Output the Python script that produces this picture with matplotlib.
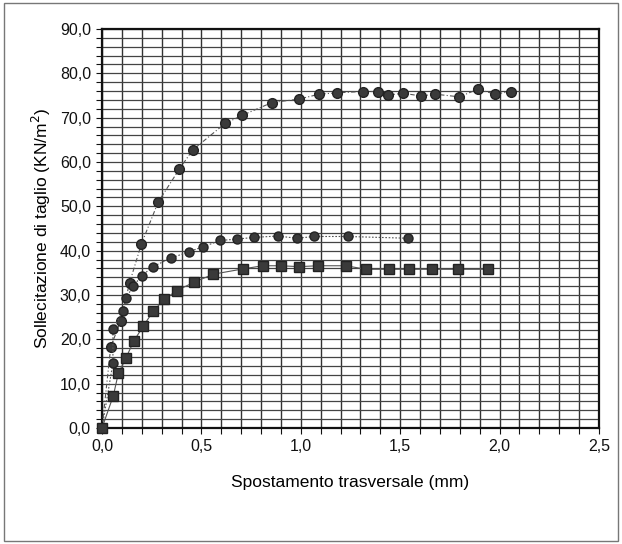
"""Shear stress vs transverse displacement, three test series (scanned chart redraw)."""

import matplotlib
matplotlib.use("Agg")
import matplotlib.pyplot as plt
from matplotlib.patches import Rectangle
from matplotlib.ticker import FuncFormatter, MultipleLocator

# series A: upper curve (circles)
a_x = [0.0, 0.044, 0.094, 0.139, 0.198, 0.283, 0.389, 0.456, 0.619, 0.704, 0.854,
       0.992, 1.093, 1.181, 1.314, 1.390, 1.437, 1.516, 1.603, 1.675, 1.797, 1.890,
       1.977, 2.057]
a_y = [0.0, 18.3, 24.2, 32.8, 41.5, 51.0, 58.4, 62.7, 68.7, 70.5, 73.4,
       74.2, 75.3, 75.6, 75.9, 75.9, 75.1, 75.5, 74.9, 75.3, 74.7, 76.4,
       75.3, 75.9]

# series B: middle curve (circles)
b_x = [0.0, 0.055, 0.055, 0.106, 0.122, 0.156, 0.200, 0.255, 0.346, 0.438, 0.510,
       0.594, 0.678, 0.765, 0.884, 0.982, 1.066, 1.235, 1.541]
b_y = [0.0, 14.7, 22.3, 26.5, 29.3, 32.0, 34.3, 36.4, 38.3, 39.8, 40.9,
       42.3, 42.6, 43.0, 43.3, 42.8, 43.2, 43.2, 42.8]

# series C: lower curve (squares)
c_x = [0.0, 0.057, 0.082, 0.119, 0.161, 0.208, 0.258, 0.313, 0.376, 0.464, 0.560,
       0.711, 0.808, 0.899, 0.992, 1.085, 1.227, 1.328, 1.444, 1.544, 1.662, 1.792,
       1.940]
c_y = [0.0, 7.3, 12.3, 15.7, 19.7, 23.0, 26.4, 29.0, 31.0, 32.9, 34.7,
       35.9, 36.6, 36.6, 36.4, 36.6, 36.6, 35.8, 35.8, 35.8, 35.8, 35.8,
       35.8]

plt.rcParams["font.family"] = ["Liberation Sans", "DejaVu Sans"]

fig = plt.figure(figsize=(6.22, 5.44), dpi=100)
ax = fig.add_axes([0.164, 0.2132, 0.799, 0.7335])

mk = "#3a3a3a"
ax.plot(a_x, a_y, linestyle=(0, (4, 2, 1, 2)), color="#555", lw=0.8,
        marker="o", ms=7, mfc=mk, mec="#222", zorder=3, clip_on=False)
ax.plot(b_x, b_y, linestyle=(0, (1.5, 1.5)), color="#555", lw=0.8,
        marker="o", ms=6.5, mfc=mk, mec="#222", zorder=3, clip_on=False)
ax.plot(c_x, c_y, linestyle="-", color="#555", lw=0.8,
        marker="s", ms=7, mfc=mk, mec="#222", zorder=4, clip_on=False)

ax.set_xlim(0, 2.5)
ax.set_ylim(0, 90)
ax.xaxis.set_major_locator(MultipleLocator(0.5))
ax.xaxis.set_minor_locator(MultipleLocator(0.1))
ax.yaxis.set_major_locator(MultipleLocator(10))
ax.yaxis.set_minor_locator(MultipleLocator(2))
comma = FuncFormatter(lambda v, _: f"{v:.1f}".replace(".", ","))
ax.xaxis.set_major_formatter(comma)
ax.yaxis.set_major_formatter(comma)

ax.grid(True, which="both", axis="x", color="#333", lw=1.0)
ax.grid(True, which="both", axis="y", color="#444", lw=0.9)
ax.set_axisbelow(True)
ax.tick_params(which="both", direction="out", length=4, width=0.8,
               labelsize=11.5, colors="#111", pad=4)
for s in ax.spines.values():
    s.set_linewidth(1.6)
    s.set_color("#111")

ax.set_xlabel("Spostamento trasversale (mm)", fontsize=12.5, labelpad=15)
ax.set_ylabel("Sollecitazione di taglio (KN/m$^2$)", fontsize=12.5, labelpad=5)

# outer frame of the scanned figure
fig.patches.append(Rectangle((0.006, 0.006), 0.988, 0.988, transform=fig.transFigure,
                             fill=False, ec="#777", lw=1.0))

fig.savefig("out.png", dpi=100)
